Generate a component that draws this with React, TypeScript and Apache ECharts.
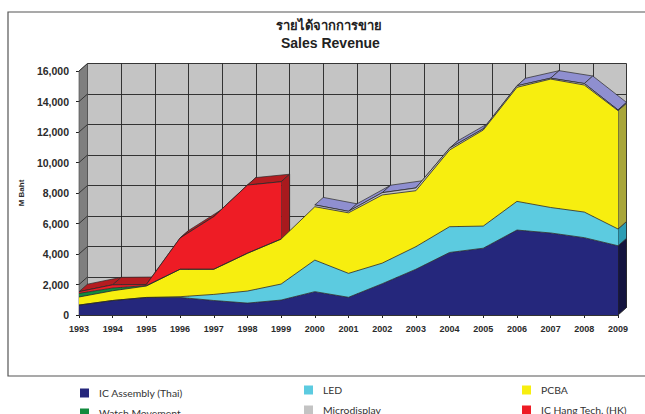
import React, { useEffect, useRef } from "react";
import * as echarts from "echarts";

const years = ["1993","1994","1995","1996","1997","1998","1999","2000","2001","2002","2003","2004","2005","2006","2007","2008","2009"];
const yTicks = [0, 2000, 4000, 6000, 8000, 10000, 12000, 14000, 16000];
const icAssembly = [650,950,1150,1150,950,780,980,1530,1160,2050,3000,4100,4380,5570,5380,5070,4540];
const led = [0,0,0,50,400,790,1050,2070,1570,1350,1480,1690,1450,1880,1670,1680,1100];
const pcba = [530,640,750,1800,1650,2480,2950,3500,3970,4470,3670,5030,6300,7480,8420,8330,7760];
const watchMovement: (number | null)[] = [240,180,30,0,0,0,0,null,null,null,null,null,null,null,null,null,null];
const microdisplay: (number | null)[] = [null,null,null,null,null,null,null,120,100,150,180,120,80,100,60,100,50];
const icHangTech: (number | null)[] = [110,210,70,2050,3450,4470,3760,null,null,null,null,null,null,null,null,null,null];

const DX = 8.5;
const DY = 7.5;
const LINE = "#2a2a2a";

const layers = [
  { name: "IC Assembly (Thai)", values: icAssembly, color: "#25277c", side: "#14143f" },
  { name: "LED", values: led, color: "#5ccbe0", side: "#2c9db4" },
  { name: "PCBA", values: pcba, color: "#f7ee0f", side: "#a8a63a" },
  { name: "Watch Movement", values: watchMovement, color: "#128a3e", side: "#0b5c29" },
  { name: "Microdisplay", values: microdisplay, color: "#c3c3c3", side: "#8a8ac8" },
  { name: "IC Hang Tech. (HK)", values: icHangTech, color: "#ee1c25", side: "#a81a1e" },
];

function cumulative(upTo: number): number[] {
  return years.map((_, i) => {
    let s = 0;
    for (let k = 0; k <= upTo; k++) s += layers[k].values[i] ?? 0;
    return s;
  });
}

function poly(points: number[][], fill: string, stroke = LINE) {
  return {
    type: "polygon",
    shape: { points },
    style: { fill, stroke, lineWidth: 0.7 },
  };
}

// Slanted faces going back from the front plane of the chart.
function topFaces(tops: number[], present: (i: number) => boolean, color: string, z: number) {
  const data: number[][] = [];
  for (let i = 0; i < years.length - 1; i++) {
    if (present(i) && present(i + 1)) data.push([i, tops[i], tops[i + 1]]);
  }
  return {
    type: "custom",
    silent: true,
    z,
    clip: false,
    data,
    encode: { x: 0, y: 1 },
    renderItem: (_: any, api: any) => {
      const i = api.value(0);
      const a = api.coord([i, api.value(1)]);
      const b = api.coord([i + 1, api.value(2)]);
      return poly([a, b, [b[0] + DX, b[1] - DY], [a[0] + DX, a[1] - DY]], color);
    },
  };
}

function sideFace(index: number, low: number, high: number, color: string, z: number) {
  return {
    type: "custom",
    silent: true,
    z,
    clip: false,
    data: [[index, low, high]],
    encode: { x: 0, y: 1 },
    renderItem: (_: any, api: any) => {
      const i = api.value(0);
      const a = api.coord([i, api.value(1)]);
      const b = api.coord([i, api.value(2)]);
      return poly([a, b, [b[0] + DX, b[1] - DY], [a[0] + DX, a[1] - DY]], color);
    },
  };
}

// Left wall, floor and the grid lines running across the left wall.
const wallSeries = {
  type: "custom",
  silent: true,
  z: 1,
  clip: false,
  data: yTicks.map((t) => [0, t]),
  encode: { x: 0, y: 1 },
  renderItem: (_: any, api: any) => {
    const p = api.coord([0, api.value(1)]);
    const children: any[] = [];
    if (api.value(1) === 0) {
      const t = api.coord([0, 16000]);
      const r = api.coord([years.length - 1, 0]);
      children.push(poly([p, t, [t[0] + DX, t[1] - DY], [p[0] + DX, p[1] - DY]], "#7f7f7f", "#555"));
      children.push(poly([p, r, [r[0] + DX, r[1] - DY], [p[0] + DX, p[1] - DY]], "#9a9a9a", "#555"));
    }
    children.push({
      type: "line",
      z2: 5,
      shape: { x1: p[0], y1: p[1], x2: p[0] + DX, y2: p[1] - DY },
      style: { stroke: "#222", lineWidth: 0.8 },
    });
    return { type: "group", children };
  },
};

export default function App() {
  const ref = useRef<HTMLDivElement>(null);
  useEffect(() => {
    const chart = echarts.init(ref.current!, null, { renderer: "svg" });
    const labelStyle = { color: "#2b2b2b", fontFamily: "Liberation Sans", fontWeight: "bold" as const };
    const lineSeries = layers.map((l) => ({
      name: l.name,
      type: "line",
      stack: "total",
      z: 4,
      symbol: "none",
      showSymbol: false,
      connectNulls: false,
      data: l.values,
      itemStyle: { color: l.color },
      lineStyle: { color: LINE, width: 0.8 },
      areaStyle: { color: l.color, opacity: 1 },
    }));
    const last = years.length - 1;
    const sides = layers
      .map((l, k) => {
        const v = l.values[last];
        if (v == null) return null;
        return sideFace(last, cumulative(k)[last] - v, cumulative(k)[last], l.side, 3);
      })
      .filter(Boolean);
    const redTop = cumulative(5);
    const microTop = cumulative(4);
    const legendItem = (name: string, left: number, top: number) => ({
      icon: "rect",
      itemWidth: 9,
      itemHeight: 9,
      selectedMode: false,
      padding: 0,
      left,
      top,
      data: [name],
      textStyle: {
        fontFamily: "Lato",
        fontSize: 10.4,
        color: "#333",
        padding: [0, 0, 0, 5],
      },
    });
    const titleStyle = { fontFamily: "Liberation Sans", fontWeight: "bold", color: "#222" };
    chart.setOption({
      animation: false,
      backgroundColor: "#ffffff",
      title: [
        { text: "รายได้จากการขาย", left: 276, top: 19, padding: 0, textStyle: { ...titleStyle, fontSize: 13 } },
        { text: "Sales Revenue", left: 281, top: 36, padding: 0, textStyle: { ...titleStyle, fontSize: 14 } },
      ],
      legend: [
        legendItem("IC Assembly (Thai)", 80, 388),
        legendItem("Watch Movement", 80, 408),
        legendItem("LED", 304, 385),
        legendItem("Microdisplay", 304, 405),
        legendItem("PCBA", 522, 385),
        legendItem("IC Hang Tech. (HK)", 522, 405),
      ],
      graphic: [
        {
          type: "rect",
          z: -10,
          shape: { x: 8, y: 12, width: 660, height: 364 },
          style: { fill: "#fff", stroke: "#555", lineWidth: 1.2 },
        },
      ],
      grid: [
        { left: 79, top: 71, width: 539, height: 244, containLabel: false },
        { left: 87.5, top: 63.5, width: 539, height: 244, show: true, backgroundColor: "#c4c4c4", borderWidth: 0 },
      ],
      xAxis: [
        {
          type: "category",
          gridIndex: 0,
          data: years,
          boundaryGap: false,
          axisLine: { show: true, lineStyle: { color: "#222" } },
          axisTick: { show: true, length: 3, alignWithLabel: true, interval: 0, lineStyle: { color: "#222" } },
          axisLabel: { ...labelStyle, fontSize: 9, interval: 0, margin: 9 },
          splitLine: { show: false },
        },
        {
          type: "category",
          gridIndex: 1,
          data: years,
          boundaryGap: false,
          axisLine: { show: false },
          axisTick: { show: false },
          axisLabel: { show: false },
          splitLine: { show: true, interval: 0, lineStyle: { color: "#222", width: 0.9 } },
        },
      ],
      yAxis: [
        {
          type: "value",
          gridIndex: 0,
          min: 0,
          max: 16000,
          interval: 2000,
          name: "M Baht",
          nameLocation: "middle",
          nameRotate: 90,
          nameGap: 54,
          nameTextStyle: { ...labelStyle, fontSize: 8 },
          axisLine: { show: true, lineStyle: { color: "#444" } },
          axisTick: { show: true, length: 3, lineStyle: { color: "#222" } },
          axisLabel: {
            ...labelStyle,
            fontSize: 10.5,
            margin: 10,
            formatter: (v: number) => v.toLocaleString("en-US"),
          },
          splitLine: { show: false },
        },
        {
          type: "value",
          gridIndex: 1,
          min: 0,
          max: 16000,
          interval: 2000,
          axisLine: { show: false },
          axisTick: { show: false },
          axisLabel: { show: false },
          splitLine: { show: true, lineStyle: { color: "#222", width: 0.9 } },
        },
      ],
      series: [
        wallSeries,
        topFaces(redTop, (i) => icHangTech[i] != null, "#b41c20", 2),
        topFaces(microTop, (i) => microdisplay[i] != null, "#8f8fd0", 2),
        sideFace(6, redTop[6] - (icHangTech[6] as number), redTop[6], "#a81a1e", 3),
        ...sides,
        ...lineSeries,
      ],
    });
    return () => chart.dispose();
  }, []);
  return <div ref={ref} style={{ position: "fixed", left: 0, top: 0, width: 645, height: 414 }} />;
}
